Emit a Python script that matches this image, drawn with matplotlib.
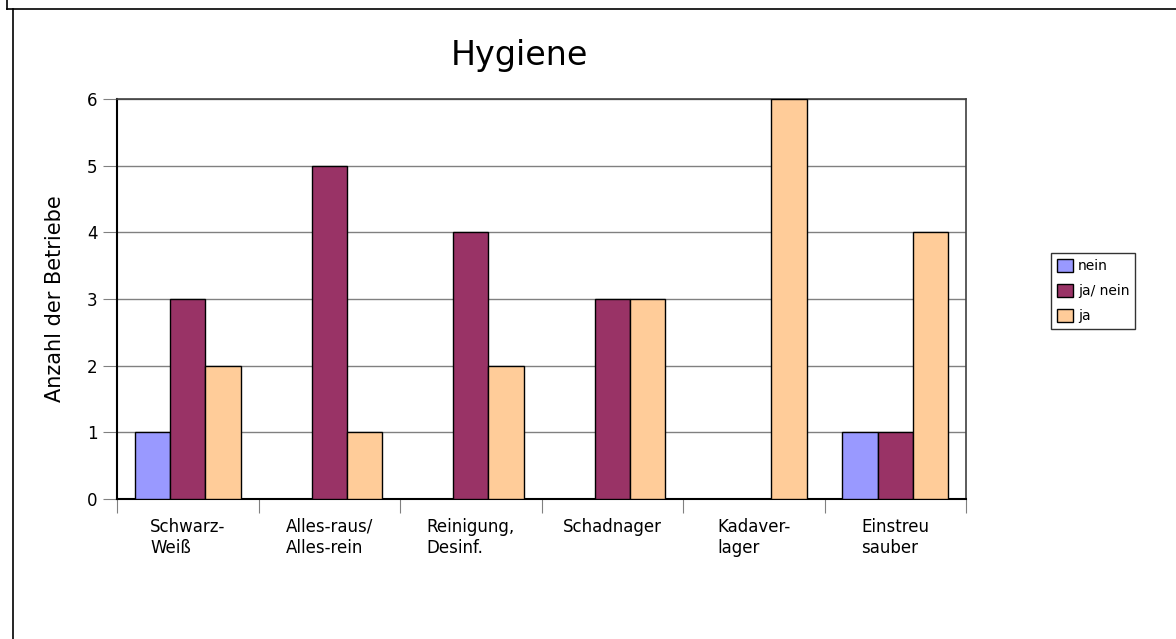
import matplotlib.pyplot as plt
import numpy as np

categories = ["Schwarz-\nWeiß", "Alles-raus/\nAlles-rein", "Reinigung,\nDesinf.",
              "Schadnager", "Kadaver-\nlager", "Einstreu\nsauber"]
series_names = ["nein", "ja/ nein", "ja"]
nein = [1, 0, 0, 0, 0, 1]
ja_nein = [3, 5, 4, 3, 0, 1]
ja = [2, 1, 2, 3, 6, 4]
colors = ["#9999FF", "#993366", "#FFCC99"]

fig = plt.figure(figsize=(11.76, 6.39), dpi=100)
ax = fig.add_axes([117 / 1176, 1 - 499 / 639, 849 / 1176, 400 / 639])

x = np.arange(len(categories))
w = 0.25
for i, (vals, name) in enumerate(zip([nein, ja_nein, ja], series_names)):
    ax.bar(x + (i - 1) * w, vals, w, color=colors[i], edgecolor="black",
           linewidth=1, label=name, zorder=3)

ax.set_xlim(-0.5, len(categories) - 0.5)
ax.set_ylim(0, 6)
ax.set_yticks(range(7))
ax.yaxis.grid(True, color="#808080", linewidth=1, zorder=0)
ax.tick_params(axis="y", length=10, color="#808080", labelsize=12, pad=4)

# category labels between boundary ticks
ax.set_xticks(np.arange(len(categories) + 1) - 0.5)
ax.set_xticklabels([])
ax.tick_params(axis="x", length=10, color="#808080", direction="out")
for xi, lab in zip(x, categories):
    ax.text(xi, -0.28, lab, ha="center", va="top", multialignment="left",
            fontsize=12, linespacing=1.25, transform=ax.transData)

for s in ["left", "bottom"]:
    ax.spines[s].set_color("black")
    ax.spines[s].set_linewidth(1.5)
for s in ["top", "right"]:
    ax.spines[s].set_color("#404040")
    ax.spines[s].set_linewidth(1.2)

ax.set_ylabel("Anzahl der Betriebe", fontsize=15, labelpad=16)
fig.text(519 / 1176, 1 - 56 / 639, "Hygiene", fontsize=24, ha="center", va="center")

leg = ax.legend(loc="center left", bbox_to_anchor=(1.092, 0.52), fontsize=10,
                frameon=True, fancybox=False, edgecolor="black",
                handlelength=1.15, handleheight=1.15, handletextpad=0.4,
                borderpad=0.4, labelspacing=0.75)
leg.get_frame().set_linewidth(1)

# outer frame lines (cropped sheet)
fig.add_artist(plt.Line2D([7 / 1176, 1], [1 - 9 / 639, 1 - 9 / 639], color="black", lw=1.2))
fig.add_artist(plt.Line2D([7 / 1176, 7 / 1176], [1, 1 - 9 / 639], color="black", lw=1.2))
fig.add_artist(plt.Line2D([13 / 1176, 13 / 1176], [0, 1 - 9 / 639], color="black", lw=1.2))

fig.savefig("out.png", dpi=100)
